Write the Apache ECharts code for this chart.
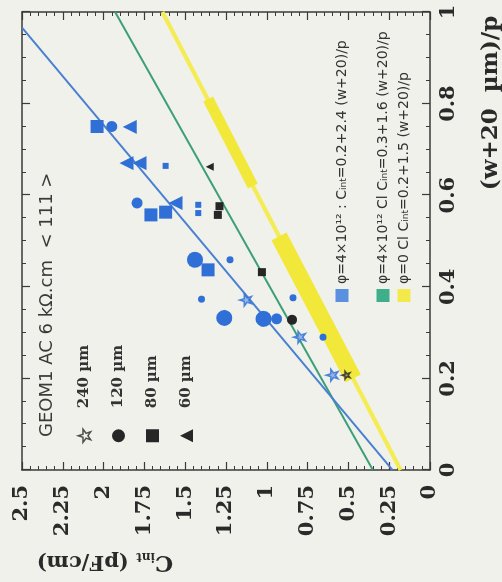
<!DOCTYPE html>
<html><head><meta charset="utf-8">
<script src="https://cdn.jsdelivr.net/npm/echarts@6/dist/echarts.min.js"></script>
<style>
html,body{margin:0;padding:0;background:#f0f1eb;overflow:hidden;width:502px;height:582px;}
#chart{position:absolute;left:0;top:0;width:582px;height:502px;transform-origin:0 0;transform:translateY(582px) rotate(-90deg);}
</style></head><body><div id="chart"></div>
<script>
// ---- data (x = (w+20 µm)/p, y = C_int in pF/cm) ----
const xTickLabels = ['0','0.2','0.4','0.6','0.8','1'];
const yTickLabels = ['0','0.25','0.5','0.75','1','1.25','1.5','1.75','2','2.25','2.5'];
const widthNames = ['240 µm','120 µm','80 µm','60 µm'];
const lineNames = ['φ=4×10¹² : C_int=0.2+2.4 (w+20)/p','φ=4×10¹² Cl C_int=0.3+1.6 (w+20)/p','φ=0 Cl C_int=0.2+1.5 (w+20)/p'];
const titleText = 'GEOM1 AC 6 kΩ.cm  < 111 >';

const blueFit = [[0,0.23],[0.966,2.5]];
const greenFit = [[0,0.35],[1,1.93]];
const yellowFit = [[0,0.18],[1,1.64]];
const yellowBandA = [[0.2,0.47],[0.51,0.925]];
const yellowBandB = [[0.62,1.085],[0.81,1.36]];

const blueCirclesLarge = [[0.459,1.44],[0.332,1.26],[0.33,1.02]];
const blueCirclesMid = [[0.75,1.95],[0.583,1.795],[0.33,0.94]];
const blueCirclesSmall = [[0.459,1.225],[0.373,1.40],[0.376,0.84],[0.29,0.655]];
const blueSquaresLarge = [[0.75,2.04],[0.557,1.71],[0.563,1.62],[0.437,1.36]];
const blueSquaresSmall = [[0.664,1.62],[0.579,1.42],[0.561,1.42]];
const blueTriangles = [[0.749,1.84],[0.67,1.86],[0.67,1.78],[0.583,1.56]];
const blueStars = [[0.371,1.13],[0.29,0.80],[0.207,0.60]];
const blackStars = [[0.207,0.515]];
const blackCircles = [[0.328,0.845]];
const blackSquares = [[0.576,1.29],[0.557,1.30],[0.432,1.03]];
const blackTriangles = [[0.662,1.35]];

// ---- styling ----
const starPath = 'path://M50,0 L61,35 L98,35 L68,57 L79,91 L50,70 L21,91 L32,57 L2,35 L39,35 Z';
const symbols = {'240 µm':starPath,'120 µm':'circle','80 µm':'rect','60 µm':'triangle'};
const BLUE = '#2f6fd6', BLACK = '#262626';
const serif = 'DejaVu Serif', sans = 'DejaVu Sans';

function pts(name, data, color, size){
  const s = {type:'scatter', name, data, symbol:symbols[name], symbolSize:size,
    itemStyle:{color:color, opacity:1}, z:5, xAxisIndex:0, yAxisIndex:0};
  if (name === '240 µm') s.itemStyle = {color: color===BLUE?'#7ea6e6':'#8a8a8a', borderColor:color, borderWidth:1.5};
  return s;
}
function fit(name, data, color, width, z){
  return {type:'line', name, data, symbol:'none', lineStyle:{color, width}, itemStyle:{color}, z:z||2,
    silent:true, xAxisIndex:0, yAxisIndex:0};
}
function richName(n){ return n.replace('C_int','{c|C}{s|int}'); }

const axisCommon = {
  type:'value', splitLine:{show:false},
  axisLine:{show:true, onZero:false, lineStyle:{color:'#3a3a3a', width:1.5}},
  axisTick:{show:true, inside:true, length:8, lineStyle:{color:'#3a3a3a', width:1.2}},
  minorTick:{show:true, length:4, lineStyle:{color:'#3a3a3a', width:1}}
};
const labelStyle = {fontFamily:serif, fontWeight:'bold', fontSize:21, color:'#2a2a2a'};
const lineLegendText = {fontFamily:sans, fontSize:14, color:'#333', lineHeight:13,
  rich:{c:{fontFamily:sans, fontSize:14, color:'#333'}, s:{fontFamily:sans, fontSize:9, color:'#333', verticalAlign:'bottom'}}};

const option = {
  backgroundColor:'#f0f1eb',
  animation:false,
  grid:{left:112, right:12, top:22, bottom:72, containLabel:false, outerBoundsMode:'none'},
  xAxis:[
    Object.assign({}, axisCommon, {min:0, max:1, interval:0.2, position:'bottom',
      minorTick:Object.assign({}, axisCommon.minorTick, {splitNumber:4}),
      axisLabel:Object.assign({margin:8, formatter:v=>xTickLabels[Math.round(v/0.2)]}, labelStyle),
      name:'(w+20  µm)/p', nameLocation:'middle', nameGap:50,
      nameTextStyle:{fontFamily:serif, fontWeight:'bold', fontSize:23, color:'#2a2a2a', padding:[0,0,0,276]}
    }),
    Object.assign({}, axisCommon, {min:0, max:1, interval:0.2, position:'top',
      minorTick:Object.assign({}, axisCommon.minorTick, {splitNumber:4}), axisLabel:{show:false}})
  ],
  yAxis:[
    Object.assign({}, axisCommon, {min:0, max:2.5, interval:0.25, position:'left',
      minorTick:Object.assign({}, axisCommon.minorTick, {splitNumber:5}),
      axisLabel:Object.assign({margin:15, formatter:v=>yTickLabels[Math.round(v/0.25)]}, labelStyle),
      name:'{c|C}{s|int} (pF/cm)', nameLocation:'middle', nameRotate:90, nameGap:80,
      nameTextStyle:{fontFamily:serif, fontWeight:'bold', fontSize:21, color:'#2a2a2a', padding:[0,0,0,242],
        rich:{c:{fontFamily:serif, fontWeight:'bold', fontSize:23, color:'#2a2a2a'},
              s:{fontFamily:serif, fontWeight:'bold', fontSize:12, color:'#2a2a2a', verticalAlign:'bottom'}}}
    }),
    Object.assign({}, axisCommon, {min:0, max:2.5, interval:0.25, position:'right',
      minorTick:Object.assign({}, axisCommon.minorTick, {splitNumber:5}), axisLabel:{show:false}})
  ],
  legend:[
    {orient:'vertical', left:139, top:77, padding:0, itemWidth:13, itemHeight:13, itemGap:19,
     textStyle:{fontFamily:serif, fontWeight:'bold', fontSize:15, color:'#333', lineHeight:13, padding:[0,0,0,16]},
     data:widthNames.map(n=>({name:n, icon:symbols[n],
       itemStyle: n==='240 µm' ? {color:'rgba(0,0,0,0)', borderColor:BLACK, borderWidth:1.5} : {color:BLACK}}))},
    {orient:'vertical', left:280, top:335, padding:0, itemWidth:13, itemHeight:13, itemGap:8,
     formatter:richName, textStyle:lineLegendText,
     data:[{name:lineNames[0], icon:'rect', itemStyle:{color:'#5b8fe0'}}]},
    {orient:'vertical', left:280, top:376, padding:0, itemWidth:13, itemHeight:13, itemGap:7,
     formatter:richName, textStyle:lineLegendText,
     data:[{name:lineNames[1], icon:'rect', itemStyle:{color:'#3fae8a'}},
           {name:lineNames[2], icon:'rect', itemStyle:{color:'#f3e94a'}}]}
  ],
  graphic:[
    {type:'text', left:145, top:38, z:10, style:{text:titleText, fontFamily:sans, fontSize:18, fill:'#3a3a3a'}}
  ],
  series:[
    fit(lineNames[2], yellowFit, '#f4ec55', 4, 1),
    fit(lineNames[2], yellowBandA, '#f2e83a', 17, 1),
    fit(lineNames[2], yellowBandB, '#f2e83a', 11, 1),
    fit(lineNames[1], greenFit, '#3c9f78', 2, 2),
    fit(lineNames[0], blueFit, '#4a80d2', 2, 2),
    pts('120 µm', blueCirclesLarge, BLUE, 16),
    pts('120 µm', blueCirclesMid, BLUE, 11),
    pts('120 µm', blueCirclesSmall, BLUE, 7),
    pts('80 µm', blueSquaresLarge, BLUE, 13),
    pts('80 µm', blueSquaresSmall, BLUE, 6),
    pts('60 µm', blueTriangles, BLUE, 14),
    pts('240 µm', blueStars, BLUE, 12),
    pts('240 µm', blackStars, BLACK, 8),
    pts('120 µm', blackCircles, BLACK, 10),
    pts('80 µm', blackSquares, BLACK, 8),
    pts('60 µm', blackTriangles, BLACK, 8)
  ]
};
const chart = echarts.init(document.getElementById('chart'), null, {renderer:'canvas', width:582, height:502});
chart.setOption(option);
</script></body></html>
